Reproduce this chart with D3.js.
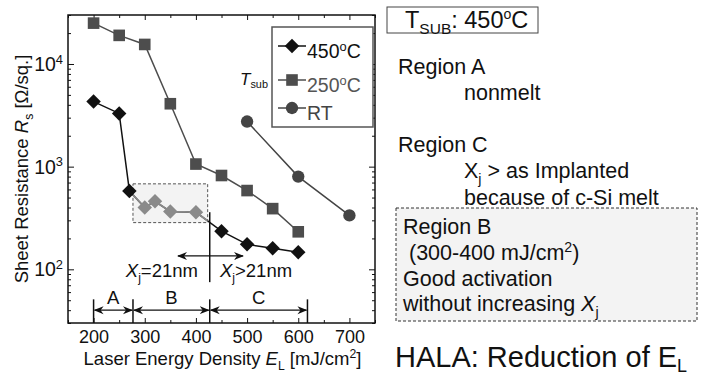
<!DOCTYPE html>
<html>
<head>
<meta charset="utf-8">
<script src="https://cdn.jsdelivr.net/npm/d3@7"></script>
<style>
body { margin: 0; background: #fff; }
text { font-family: "Liberation Sans", Arial, sans-serif; }
</style>
</head>
<body>
<svg id="chart"></svg>
<script>
// data
var energy450 = [200, 250, 270, 300, 320, 350, 400, 450, 500, 550, 600];
var rs450 = [4300, 3300, 580, 400, 460, 365, 360, 235, 175, 160, 147];
var inBox450 = [false, false, false, true, true, true, true, false, false, false, false];
var energy250 = [200, 250, 300, 350, 400, 450, 500, 550, 600];
var rs250 = [25000, 19000, 15500, 4100, 1060, 820, 585, 390, 232];
var energyRT = [500, 600, 700];
var rsRT = [2750, 800, 335];

var xTicks = [200, 300, 400, 500, 600, 700];
var yTicks = [100, 1000, 10000];
var regionBounds = [200, 277, 427, 618];
var regionNames = ["A", "B", "C"];
var boxEnergy = [277, 423];
var boxRs = [285, 680];
var legendNames = ["450", "250", "RT"];

var svgWidth = 708, svgHeight = 378;
var xMargin = 68, yMargin = 15;
var width = 307, height = 308;

var svg = d3.select("#chart").attr("width", svgWidth).attr("height", svgHeight);

var xScale = d3.scaleLinear().domain([150, 750]).range([xMargin, xMargin + width]);
var yScale = d3.scaleLog().domain([30, 30000]).range([yMargin + height, yMargin]);

// text with sub / superscripts
function rich(g, x, y, parts, size, anchor, fill) {
    var t = g.append("text")
        .attr("x", x).attr("y", y)
        .attr("font-size", size)
        .attr("text-anchor", anchor || "start")
        .attr("fill", fill || "#111");
    var cur = 0;
    parts.forEach(function(p) {
        if (typeof p == "string") p = {t: p};
        var shift = p.s == "sub" ? (p.k || 0.28) * size : (p.s == "sup" ? -0.38 * size : 0);
        var s = t.append("tspan").text(p.t).attr("dy", shift - cur);
        cur = shift;
        if (p.s) s.attr("font-size", size * (p.f || 0.66));
        if (p.i) s.attr("font-style", "italic");
    });
    return t;
}

// arrowheads
var defs = svg.append("defs");
defs.append("marker")
    .attr("id", "arr")
    .attr("viewBox", "0 0 10 10")
    .attr("refX", 9).attr("refY", 5)
    .attr("markerWidth", 10).attr("markerHeight", 10)
    .attr("markerUnits", "userSpaceOnUse")
    .attr("orient", "auto-start-reverse")
    .append("path")
    .attr("d", "M0,1 L10,5 L0,9 L3,5 Z")
    .attr("fill", "#111");

defs.append("clipPath").attr("id", "boxClip")
    .append("rect")
    .attr("x", xScale(boxEnergy[0]))
    .attr("y", yScale(boxRs[1]))
    .attr("width", xScale(boxEnergy[1]) - xScale(boxEnergy[0]))
    .attr("height", yScale(boxRs[0]) - yScale(boxRs[1]));

// highlighted box (region B)
svg.append("rect")
    .attr("x", xScale(boxEnergy[0]))
    .attr("y", yScale(boxRs[1]))
    .attr("width", xScale(boxEnergy[1]) - xScale(boxEnergy[0]))
    .attr("height", yScale(boxRs[0]) - yScale(boxRs[1]))
    .style("fill", "#f3f3f3")
    .style("stroke", "#555")
    .style("stroke-width", "1px")
    .style("stroke-dasharray", "3,2");

// axes with inward ticks
var xMinor = d3.range(150, 751, 50).filter(function(d) { return d % 100 != 0; });
var yMinor = [];
[10, 100, 1000, 10000].forEach(function(dec) {
    for (var k = 2; k <= 9; k++) {
        var v = dec * k;
        if (v >= 30 && v <= 30000) yMinor.push(v);
    }
});

function axisG(axis, tx, ty) {
    var g = svg.append("g")
        .attr("transform", "translate(" + tx + "," + ty + ")")
        .call(axis);
    g.select(".domain").remove();
    g.selectAll(".tick line").attr("stroke", "#111");
    return g;
}

var xAxisG = axisG(d3.axisBottom(xScale).tickValues(xTicks).tickSize(-5).tickPadding(7), 0, yMargin + height);
xAxisG.selectAll(".tick text")
    .attr("font-size", 18)
    .attr("fill", "#111")
    .attr("font-family", "Liberation Sans, Arial, sans-serif");
axisG(d3.axisBottom(xScale).tickValues(xMinor).tickSize(-3).tickFormat(""), 0, yMargin + height);
axisG(d3.axisTop(xScale).tickValues(xTicks).tickSize(-5).tickFormat(""), 0, yMargin);
axisG(d3.axisTop(xScale).tickValues(xMinor).tickSize(-3).tickFormat(""), 0, yMargin);

axisG(d3.axisLeft(yScale).tickValues(yTicks).tickSize(-6).tickFormat(""), xMargin, 0);
axisG(d3.axisLeft(yScale).tickValues(yMinor).tickSize(-3).tickFormat(""), xMargin, 0);
axisG(d3.axisRight(yScale).tickValues(yTicks).tickSize(-6).tickFormat(""), xMargin + width, 0);
axisG(d3.axisRight(yScale).tickValues(yMinor).tickSize(-3).tickFormat(""), xMargin + width, 0);

yTicks.forEach(function(v) {
    rich(svg, xMargin - 5, yScale(v) + 7,
        ["10", {t: String(Math.round(Math.log10(v))), s: "sup"}], 19.5, "end");
});

// frame
svg.append("rect")
    .attr("x", xMargin).attr("y", yMargin)
    .attr("width", width).attr("height", height)
    .style("fill", "none")
    .style("stroke", "#111")
    .style("stroke-width", "1.5px");

// axis titles
rich(svg, xMargin + width / 2 + 1, 365,
    ["Laser Energy Density ", {t: "E", i: true}, {t: "L", s: "sub"}, {t: " [mJ/cm"}, {t: "2", s: "sup"}, {t: "]"}],
    18.5, "middle");
var yTitle = svg.append("g").attr("transform", "translate(28," + (yMargin + height / 2) + ") rotate(-90)");
rich(yTitle, 0, 0,
    ["Sheet Resistance ", {t: "R", i: true}, {t: "s", s: "sub"}, {t: " [\u03A9/sq.]"}],
    18.5, "middle");

// series
var line = d3.line()
    .x(function(d) { return xScale(d[0]); })
    .y(function(d) { return yScale(d[1]); });

var pts450 = d3.zip(energy450, rs450);
var pts250 = d3.zip(energy250, rs250);
var ptsRT = d3.zip(energyRT, rsRT);

var c450 = "#111", cGray = "#8a8a8a", c250 = "#4d4d4d", cRT = "#444";

svg.append("path").datum(pts250).attr("d", line)
    .attr("fill", "none").attr("stroke", c250).attr("stroke-width", 1.5);
svg.append("path").datum(ptsRT).attr("d", line)
    .attr("fill", "none").attr("stroke", cRT).attr("stroke-width", 1.5);
svg.append("path").datum(pts450).attr("d", line)
    .attr("fill", "none").attr("stroke", c450).attr("stroke-width", 1.5);
svg.append("path").datum(pts450).attr("d", line)
    .attr("clip-path", "url(#boxClip)")
    .attr("fill", "none").attr("stroke", cGray).attr("stroke-width", 1.8);

var diamond = d3.symbol().type(d3.symbolSquare).size(105);
var square = d3.symbol().type(d3.symbolSquare).size(135);
var circle = d3.symbol().type(d3.symbolCircle).size(120);

svg.selectAll(".sq").data(pts250).enter().append("path")
    .attr("d", square)
    .attr("transform", function(d) { return "translate(" + xScale(d[0]) + "," + yScale(d[1]) + ")"; })
    .attr("fill", c250);
svg.selectAll(".ci").data(ptsRT).enter().append("path")
    .attr("d", circle)
    .attr("transform", function(d) { return "translate(" + xScale(d[0]) + "," + yScale(d[1]) + ")"; })
    .attr("fill", cRT);
svg.selectAll(".di").data(pts450).enter().append("path")
    .attr("d", diamond)
    .attr("transform", function(d) { return "translate(" + xScale(d[0]) + "," + yScale(d[1]) + ") rotate(45)"; })
    .attr("fill", function(d, i) { return inBox450[i] ? cGray : c450; });

// Xj divider
var xjEnergy = 427, xjArrow = [365, 492];
svg.append("line")
    .attr("x1", xScale(xjEnergy)).attr("x2", xScale(xjEnergy))
    .attr("y1", yScale(360)).attr("y2", yScale(75))
    .attr("stroke", "#111").attr("stroke-width", 1.5);
svg.append("line")
    .attr("x1", xScale(xjArrow[0])).attr("x2", xScale(xjArrow[1]))
    .attr("y1", yScale(135)).attr("y2", yScale(135))
    .attr("stroke", "#111").attr("stroke-width", 1.3)
    .attr("marker-start", "url(#arr)").attr("marker-end", "url(#arr)");
rich(svg, xScale(404), yScale(85), [{t: "X", i: true}, {t: "j", s: "sub"}, {t: "=21nm"}], 18.5, "end");
rich(svg, xScale(447), yScale(85), [{t: "X", i: true}, {t: "j", s: "sub"}, {t: ">21nm"}], 18.5, "start");

// region A / B / C markers
regionBounds.forEach(function(e) {
    svg.append("line")
        .attr("x1", xScale(e)).attr("x2", xScale(e))
        .attr("y1", yScale(51)).attr("y2", yScale(30))
        .attr("stroke", "#111").attr("stroke-width", 1.5);
});
regionNames.forEach(function(name, i) {
    var a = regionBounds[i], b = regionBounds[i + 1];
    svg.append("line")
        .attr("x1", xScale(a) + 1).attr("x2", xScale(b) - 1)
        .attr("y1", yScale(40)).attr("y2", yScale(40))
        .attr("stroke", "#111").attr("stroke-width", 1.3)
        .attr("marker-start", "url(#arr)").attr("marker-end", "url(#arr)");
    svg.append("text")
        .attr("x", (xScale(a) + xScale(b)) / 2)
        .attr("y", yScale(46))
        .attr("text-anchor", "middle")
        .attr("font-size", 18.5)
        .attr("fill", "#111")
        .text(name);
});

// legend
var lg = svg.append("g");
lg.append("rect")
    .attr("x", 272).attr("y", 27).attr("width", 101).attr("height", 100)
    .style("fill", "#fff").style("stroke", "#555").style("stroke-width", "1.5px");
var legendRows = [
    {sym: diamond, rot: 45, color: c450, textColor: "#111"},
    {sym: square, rot: 0, color: c250, textColor: "#555"},
    {sym: circle, rot: 0, color: cRT, textColor: "#444"}
];
var rowY = [46, 80, 108];
legendRows.forEach(function(r, i) {
    var y = rowY[i];
    lg.append("line").attr("x1", 278).attr("x2", 306).attr("y1", y).attr("y2", y)
        .attr("stroke", r.color).attr("stroke-width", 1.5);
    lg.append("path").attr("d", r.sym)
        .attr("transform", "translate(292," + y + ") rotate(" + r.rot + ")")
        .attr("fill", r.color);
    var parts = legendNames[i] == "RT" ? ["RT"] : [legendNames[i], {t: "o", s: "sup"}, "C"];
    rich(lg, 307, y + 12, parts, 19.5, "start", r.textColor);
});
rich(svg, 240, 85, [{t: "T", i: true}, {t: "sub", s: "sub", k: 0.2, f: 0.64}], 17, "start");

// notes on the right
var notes = svg.append("g");
notes.append("rect")
    .attr("x", 387).attr("y", 7).attr("width", 151).attr("height", 26)
    .style("fill", "none").style("stroke", "#444").style("stroke-width", "1px");
rich(notes, 405, 28, ["T", {t: "SUB", s: "sub", k: 0.25, f: 0.66}, ": 450", {t: "o", s: "sup", f: 0.6}, "C"], 23.5, "start");

rich(notes, 398, 74, ["Region A"], 21.5);
rich(notes, 464, 100, ["nonmelt"], 21.5);
rich(notes, 398, 152, ["Region C"], 21.5);
rich(notes, 464, 178, ["X", {t: "j", s: "sub"}, " > as Implanted"], 21.5);
rich(notes, 464, 205, ["because of c-Si melt"], 21.5);

notes.append("rect")
    .attr("x", 396).attr("y", 208).attr("width", 301).attr("height", 113)
    .style("fill", "#f3f3f3").style("stroke", "#333")
    .style("stroke-width", "1px").style("stroke-dasharray", "3,2");
rich(notes, 403, 234, ["Region B"], 21.5);
rich(notes, 403, 260, [" (300-400 mJ/cm", {t: "2", s: "sup"}, ")"], 21.5).attr("xml:space", "preserve");
rich(notes, 403, 285.5, ["Good activation"], 21.5);
rich(notes, 403, 310.5, ["without increasing ", {t: "X", i: true}, {t: "j", s: "sub"}], 21.5);

rich(notes, 395, 367, ["HALA: Reduction of E", {t: "L", s: "sub", k: 0.16, f: 0.62}], 29);
</script>
</body>
</html>
